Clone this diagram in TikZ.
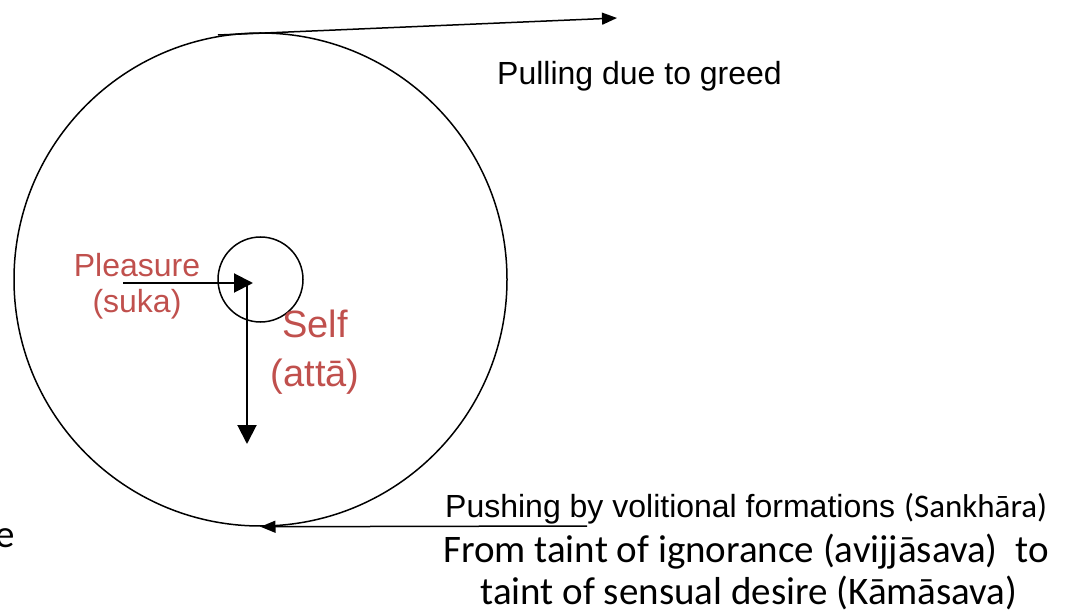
\documentclass[tikz,border=0pt]{standalone}
\usepackage{fontspec}
\setmainfont{Liberation Sans}
\newfontfamily\calibri{Carlito}
\usetikzlibrary{arrows.meta,positioning}
\definecolor{SelfRed}{RGB}{192, 80, 77}

\begin{document}
\begin{tikzpicture}[
    x=1pt, y=-1pt,
    ring/.style={circle, draw, line width=1.5pt, inner sep=0pt},
    push/.style={-{Triangle[length=15pt, width=12pt]}, line width=1.5pt},
    force/.style={-{Triangle[length=19pt, width=19pt]}, line width=2pt},
    redlabel/.style={text=SelfRed, align=center, inner sep=0pt},
    caption/.style={inner sep=0pt, anchor=base west, font=\fontsize{32}{36}\selectfont},
    sankhara/.style={inner sep=0pt, anchor=base, font=\calibri\fontsize{39}{44}\selectfont}
]
\useasboundingbox (0,0) rectangle (1074,612);

% Wheel and self
\node[ring, minimum size=493pt] (wheel) at (260.5,279.5) {};
\node[ring, minimum size=85pt] (self) at (260.5,279.5) {};

% Forces on the self
\coordinate (hub) at (247,283);
\coordinate (pleasurestart) at (123,283);
\coordinate (fall) at (247,444);
\draw[force] (pleasurestart) -- ([xshift=6pt]hub);
\draw[force] (hub) -- (fall);

% Red labels
\node[redlabel, font=\fontsize{32}{36}\selectfont, anchor=base] (pleasure) at (137,313) {Pleasure\\(suka)};
\node[redlabel, font=\fontsize{38}{49}\selectfont, anchor=base] (selflabel) at (315,386) {Self\\(att\=a)};

% Pulling
\coordinate (pullstart) at (218,35);
\coordinate (pullend) at (617,18);
\draw[push] (pullstart) -- (pullend);
\node[caption] (greed) at (497,85) {Pulling due to greed};

% Pushing
\coordinate (pushstart) at (587,526);
\draw[push] (pushstart) -- (wheel.south);
\node[caption] (pushing) at (445,517) {Pushing by volitional formations {\calibri\fontsize{33}{36}\selectfont(Sankh\=ara)}};
\node[sankhara] (ignorance) at (746,562) {From taint of ignorance (avijj\=asava)\ \ to};
\node[sankhara] (sensual) at (749,604) {taint of sensual desire (K\=am\=asava)};

% Cut-off text at the left
\node[sankhara, anchor=base east] (cut) at (15,547) {e};

\end{tikzpicture}
\end{document}
